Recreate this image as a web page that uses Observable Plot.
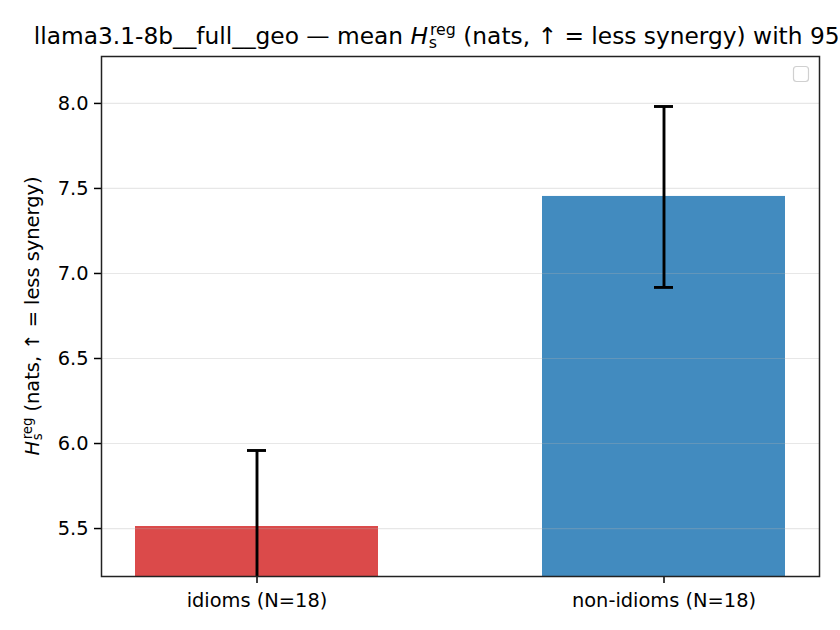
<!DOCTYPE html>
<html><head><meta charset="utf-8">
<script src="https://cdn.jsdelivr.net/npm/d3@7"></script>
<script src="https://cdn.jsdelivr.net/npm/@observablehq/plot@0.6"></script>
<style>body{margin:0;background:#fff;} #chart{width:840px;height:630px;overflow:hidden;}</style>
</head><body><div id="chart"></div>
<script>
const categories = ["idioms (N=18)", "non-idioms (N=18)"];
const means = [5.512, 7.453];
const ciLow = [5.064, 6.918];
const ciHigh = [5.959, 7.982];
const colors = ["#db4a4a", "#428bbf"];
const yTicks = [5.5, 6.0, 6.5, 7.0, 7.5, 8.0];
const yDomain = [5.218, 8.276];
const titleBefore = "llama3.1-8b__full__geo — mean ";
const titleAfter = " (nats, ↑ = less synergy) with 95% CI";
const yLabelBefore = "";
const yLabelAfter = " (nats, ↑ = less synergy)";

const data = categories.map((c, i) => ({cat: c, mean: means[i], lo: ciLow[i], hi: ciHigh[i], color: colors[i]}));

const plot = Plot.plot({
  width: 840, height: 630,
  marginLeft: 101, marginRight: 21, marginTop: 56, marginBottom: 54,
  style: {fontFamily: "DejaVu Sans", color: "#000", background: "#fff"},
  x: {domain: categories, paddingInner: 0.402, paddingOuter: 0.081, label: null},
  y: {domain: yDomain, label: null},
  marks: [
    Plot.barY(data, {x: "cat", y: "mean", fill: "color", clip: "frame"}),
    Plot.gridY(yTicks, {stroke: "#b0b0b0", strokeOpacity: 0.3, strokeWidth: 1.2}),
    Plot.ruleX(data, {x: "cat", y1: "lo", y2: "hi", stroke: "#000", strokeWidth: 2.9, clip: "frame"}),
    Plot.tickY(data, {x: "cat", y: "lo", stroke: "#000", strokeWidth: 2.9, insetLeft: 112, insetRight: 112, clip: "frame"}),
    Plot.tickY(data, {x: "cat", y: "hi", stroke: "#000", strokeWidth: 2.9, insetLeft: 112, insetRight: 112, clip: "frame"}),
    Plot.axisY({ticks: yTicks, tickFormat: d3.format(".1f"), tickSize: 7, tickPadding: 6, label: null, stroke: "#000", strokeWidth: 1.5, fontSize: 19.4}),
    Plot.axisX({tickSize: 7, tickPadding: 10, label: null, stroke: "#000", strokeWidth: 1.5, fontSize: 19.4}),
    Plot.frame({stroke: "#222", strokeWidth: 1.5})
  ]
});
document.getElementById("chart").appendChild(plot);

const svg = d3.select(plot);
function mathLabel(g, before, after, fs) {
  const t = g.append("text").attr("font-size", fs).attr("font-family", "DejaVu Sans")
    .attr("fill", "#000").attr("text-anchor", "start");
  if (before) t.append("tspan").text(before);
  t.append("tspan").attr("font-style", "italic").text("H");
  const small = fs * 0.68;
  const sup = t.append("tspan").attr("font-size", small).attr("dx", fs * 0.08).attr("dy", -fs * 0.37).text("reg");
  const supW = sup.node().getComputedTextLength();
  const sub = t.append("tspan").attr("font-size", small).attr("dx", -supW - fs * 0.05).attr("dy", fs * 0.54).text("s");
  const subW = sub.node().getComputedTextLength();
  t.append("tspan").attr("dx", supW - subW + fs * 0.05).attr("dy", -fs * 0.17).text(after);
  const w = t.node().getBBox().width;
  t.attr("x", -w / 2);
  return t;
}
mathLabel(svg.append("g").attr("transform", "translate(463,44)"), titleBefore, titleAfter, 23.3);
mathLabel(svg.append("g").attr("transform", "translate(39,316) rotate(-90)"), yLabelBefore, yLabelAfter, 19.4);
svg.append("rect").attr("x", 793.5).attr("y", 66.5).attr("width", 15).attr("height", 15).attr("rx", 3)
  .attr("fill", "#fff").attr("stroke", "#d0d0d0").attr("stroke-width", 1.2);
</script>
</body></html>
